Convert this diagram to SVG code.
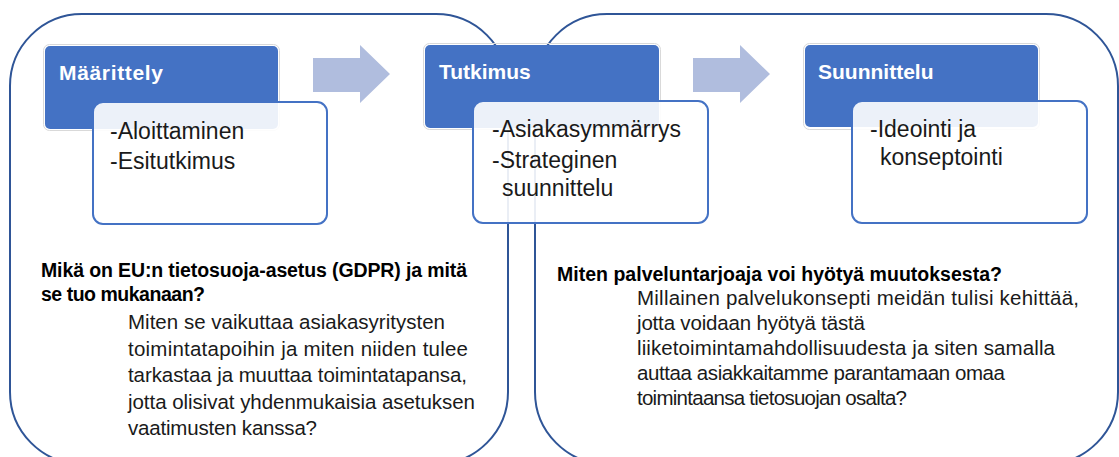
<svg xmlns="http://www.w3.org/2000/svg" width="1119" height="457" viewBox="0 0 1119 457">
<style>
.phase{fill:none;stroke:#2F5597;stroke-width:2}
.hdr{fill:#4472C4}
.hdrline{fill:none;stroke:#D9D9D9;stroke-width:1}
.det{fill:#FFFFFF;fill-opacity:0.9;stroke:#4472C4;stroke-width:2}
.arrow{fill:#B0BDDE}
.title{font-family:"Liberation Sans",Arial,sans-serif;font-weight:bold;font-size:21px;fill:#FFFFFF}
.item{font-family:"Liberation Sans",Arial,sans-serif;font-size:23px;fill:#1A1A1A}
.q{font-family:"Liberation Sans",Arial,sans-serif;font-weight:bold;font-size:19.5px;fill:#000000}
.body{font-family:"Liberation Sans",Arial,sans-serif;font-size:20.5px;fill:#1A1A1A}
</style>
<rect width="1119" height="457" fill="#FFFFFF"/>
<g id="phase-left">
<rect class="phase" x="10" y="14" width="498" height="450" rx="72" ry="72"/>
</g>
<g id="phase-right">
<rect class="phase" x="535" y="14" width="583" height="450" rx="72" ry="72"/>
</g>
<g id="node-maarittely">
<rect class="hdrline" x="43.5" y="44.5" width="236" height="86" rx="6"/>
<rect class="hdr" x="45" y="46" width="233" height="83" rx="5"/>
<text class="title" x="59" y="80" textLength="104">Määrittely</text>
<rect class="det" x="93" y="102" width="234" height="122" rx="10"/>
<text class="item" x="110" y="139">-Aloittaminen</text>
<text class="item" x="110" y="169">-Esitutkimus</text>
</g>
<g id="node-tutkimus">
<rect class="hdrline" x="423.5" y="43.5" width="237" height="86" rx="6"/>
<rect class="hdr" x="425" y="45" width="234" height="83" rx="5"/>
<text class="title" x="439" y="79">Tutkimus</text>
<rect class="det" x="473" y="101" width="235" height="122" rx="10"/>
<text class="item" x="492" y="137">-Asiakasymmärrys</text>
<text class="item" x="492" y="168">-Strateginen</text>
<text class="item" x="502" y="196">suunnittelu</text>
</g>
<g id="node-suunnittelu">
<rect class="hdrline" x="803.5" y="43.5" width="236" height="86" rx="6"/>
<rect class="hdr" x="805" y="45" width="233" height="82" rx="5"/>
<text class="title" x="818" y="79">Suunnittelu</text>
<rect class="det" x="852" y="101" width="235" height="122" rx="10"/>
<text class="item" x="870" y="137">-Ideointi ja</text>
<text class="item" x="880" y="165">konseptointi</text>
</g>
<g id="connectors">
<polygon class="arrow" points="313,58 360,58 360,45 390,74 360,103 360,92 313,92"/>
<polygon class="arrow" points="693,58 740,58 740,45 770,74 740,103 740,92 693,92"/>
</g>
<g id="question-left">
<text class="q" x="41" y="277" textLength="426">Mikä on EU:n tietosuoja-asetus (GDPR) ja mitä</text>
<text class="q" x="41" y="301" textLength="164">se tuo mukanaan?</text>
<text class="body" x="128" y="329" textLength="317">Miten se vaikuttaa asiakasyritysten</text>
<text class="body" x="128" y="355.5" textLength="340">toimintatapoihin ja miten niiden tulee</text>
<text class="body" x="128" y="382" textLength="339">tarkastaa ja muuttaa toimintatapansa,</text>
<text class="body" x="128" y="408.5" textLength="347">jotta olisivat yhdenmukaisia asetuksen</text>
<text class="body" x="128" y="435" textLength="189">vaatimusten kanssa?</text>
</g>
<g id="question-right">
<text class="q" x="557" y="281" textLength="445">Miten palveluntarjoaja voi hyötyä muutoksesta?</text>
<text class="body" x="637" y="305" textLength="442">Millainen palvelukonsepti meidän tulisi kehittää,</text>
<text class="body" x="637" y="330" textLength="228">jotta voidaan hyötyä tästä</text>
<text class="body" x="637" y="355" textLength="418">liiketoimintamahdollisuudesta ja siten samalla</text>
<text class="body" x="637" y="380" textLength="368">auttaa asiakkaitamme parantamaan omaa</text>
<text class="body" x="637" y="405" textLength="270">toimintaansa tietosuojan osalta?</text>
</g>
</svg>
